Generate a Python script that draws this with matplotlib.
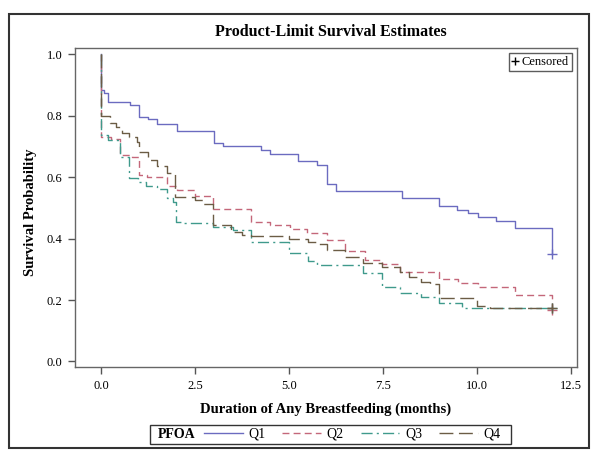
import matplotlib
matplotlib.use("Agg")
import matplotlib.pyplot as plt
from matplotlib.lines import Line2D
from matplotlib.patches import Rectangle

plt.rcParams['font.family'] = ['Liberation Serif', 'DejaVu Serif']

# Kaplan-Meier step data (time in months, survival probability)
q1_t = [0, 0, 0.08, 0.19, 0.77, 1.01, 1.25, 1.49, 2.02, 3.0, 3.24, 4.26, 4.5, 5.24, 5.74, 6.0, 6.25, 8.0, 9.0, 9.47, 9.76, 10.02, 10.5, 11.0, 12.0, 12.0]
q1_s = [1.0, 0.883, 0.875, 0.845, 0.834, 0.796, 0.788, 0.772, 0.75, 0.712, 0.70, 0.688, 0.675, 0.653, 0.639, 0.579, 0.555, 0.532, 0.506, 0.493, 0.483, 0.471, 0.458, 0.433, 0.35, 0.35]

q2_t = [0, 0, 0.27, 0.5, 0.82, 1.01, 1.23, 1.75, 2.01, 2.5, 2.98, 4.0, 4.5, 5.03, 5.49, 6.0, 6.5, 7.02, 7.46, 7.95, 9.0, 9.5, 10.02, 11.0, 12.0, 12.0]
q2_s = [1.0, 0.731, 0.724, 0.672, 0.666, 0.606, 0.599, 0.572, 0.558, 0.538, 0.497, 0.455, 0.444, 0.43, 0.417, 0.395, 0.359, 0.33, 0.317, 0.292, 0.267, 0.254, 0.243, 0.216, 0.167, 0.167]

q3_t = [0, 0, 0.19, 0.5, 0.75, 0.99, 1.21, 1.48, 1.75, 1.91, 2.0, 2.19, 2.99, 3.52, 3.98, 5.0, 5.51, 5.74, 6.98, 7.46, 7.95, 8.5, 9.0, 9.6, 12.0]
q3_s = [1.0, 0.737, 0.72, 0.666, 0.596, 0.585, 0.571, 0.56, 0.531, 0.52, 0.455, 0.451, 0.438, 0.428, 0.39, 0.352, 0.328, 0.314, 0.287, 0.243, 0.224, 0.21, 0.189, 0.173, 0.173]

q4_t = [0, 0, 0.25, 0.4, 0.55, 0.75, 0.95, 1.0, 1.25, 1.48, 1.75, 1.97, 2.5, 2.72, 2.99, 3.47, 3.74, 4.0, 5.0, 5.5, 5.74, 6.0, 6.5, 6.98, 7.46, 7.95, 8.2, 8.5, 8.75, 9.0, 10.0, 10.35, 12.0]
q4_s = [1.0, 0.798, 0.775, 0.764, 0.745, 0.729, 0.715, 0.682, 0.655, 0.636, 0.612, 0.536, 0.525, 0.512, 0.444, 0.422, 0.411, 0.409, 0.397, 0.39, 0.382, 0.363, 0.341, 0.319, 0.308, 0.29, 0.274, 0.26, 0.251, 0.205, 0.18, 0.173, 0.173]

groups = ['Q1', 'Q2', 'Q3', 'Q4']
times = [q1_t, q2_t, q3_t, q4_t]
survs = [q1_s, q2_s, q3_s, q4_s]
colors = ['#6b6bc0', '#c4677a', '#3f9a8c', '#6b5c45']
styles = ['-', (0, (5, 3)), (0, (8, 3, 1.5, 3)), (0, (10, 4))]

x_ticks = [0.0, 2.5, 5.0, 7.5, 10.0, 12.5]
y_ticks = [0.0, 0.2, 0.4, 0.6, 0.8, 1.0]

fig = plt.figure(figsize=(6.02, 4.62), dpi=100)
ax = fig.add_axes([0.1246, 0.2056, 0.834, 0.6905])

handles = []
for t, s, c, ls, g in zip(times, survs, colors, styles, groups):
    line, = ax.step(t, s, where='post', color=c, linestyle=ls, linewidth=1.0, label=g)
    ax.plot(t[-1], s[-1], marker='+', color=c, markersize=7, markeredgewidth=1.0)
    handles.append(line)

ax.set_xlim(-0.69, 12.66)
ax.set_ylim(-0.018, 1.02)
ax.set_xticks(x_ticks)
ax.set_xticklabels([f'{v:.1f}' for v in x_ticks])
ax.set_yticks(y_ticks)
ax.set_yticklabels([f'{v:.1f}' for v in y_ticks])
ax.tick_params(direction='out', length=5, width=1, color='#555555', labelsize=9, pad=4)
for sp in ax.spines.values():
    sp.set_color('#666666')
    sp.set_linewidth(1.0)

# censored box
cens = Line2D([], [], marker='+', color='black', linestyle='none', markersize=6)
leg1 = ax.legend([cens], ['Censored'], loc='upper right', fontsize=9, frameon=True,
                 fancybox=False, edgecolor='#333333', borderpad=0.25, handlelength=0.5,
                 handletextpad=0.3, borderaxespad=0.4)
leg1.get_frame().set_linewidth(1.0)

fig.text(0.55, 0.931, 'Product-Limit Survival Estimates', ha='center', va='center',
         fontsize=11.5, fontweight='bold')
ax.set_xlabel('Duration of Any Breastfeeding (months)', fontsize=10.5, fontweight='bold', labelpad=8)
fig.text(0.05, 0.54, 'Survival Probability', rotation=90, ha='center', va='center',
         fontsize=10.5, fontweight='bold')

# group legend at bottom
fig.text(0.262, 0.0606, 'PFOA', ha='left', va='center', fontsize=10, fontweight='bold')
fig.legend(handles, groups, loc='center', bbox_to_anchor=(0.585, 0.0606), ncol=4, frameon=False,
           fontsize=10, handlelength=2.8, handletextpad=0.4, columnspacing=1.2, borderpad=0)
fig.patches.append(Rectangle((150 / 602, 1 - 444 / 462), 361 / 602, 19 / 462, fill=False,
                             edgecolor='#333333', linewidth=1.0, transform=fig.transFigure))

# outer frame
fig.patches.append(Rectangle((9 / 602, 1 - 448 / 462), 580 / 602, 434 / 462, fill=False,
                             edgecolor='#333333', linewidth=1.5, transform=fig.transFigure))

fig.savefig('out.png', dpi=100)
